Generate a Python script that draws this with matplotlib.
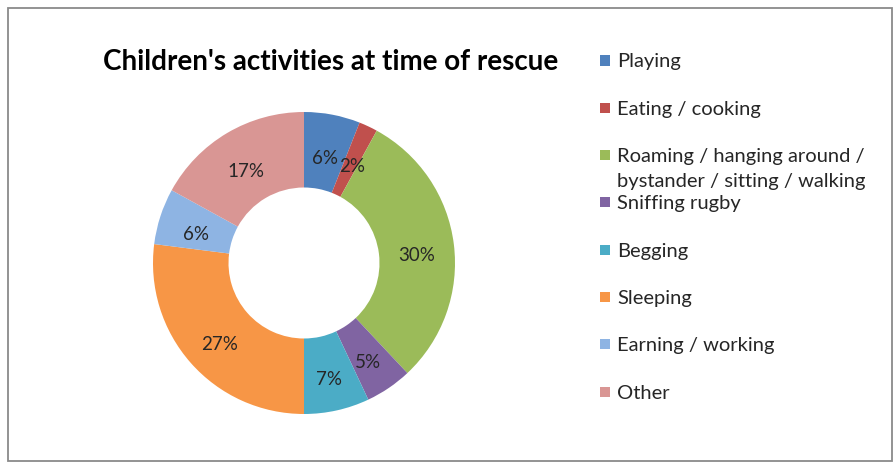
import matplotlib.pyplot as plt
from matplotlib.patches import Rectangle

# Children's activities at time of rescue (percent)
categories = ["Playing", "Eating / cooking",
              "Roaming / hanging around /\nbystander / sitting / walking",
              "Sniffing rugby", "Begging", "Sleeping",
              "Earning / working", "Other"]
shares = [6, 2, 30, 5, 7, 27, 6, 17]
colors = ["#4F81BD", "#C0504D", "#9BBB59", "#8064A2",
          "#4BACC6", "#F79646", "#8EB4E3", "#D99694"]

plt.rcParams['font.family'] = ['Lato', 'DejaVu Sans']

W, H = 895, 464
fig = plt.figure(figsize=(W / 100, H / 100), dpi=100)

# donut: centre (304, 264) px, outer radius 151 px
cx, cy, r = 304, 264, 151
ax = fig.add_axes([(cx - r) / W, 1 - (cy + r) / H, 2 * r / W, 2 * r / H])
wedges, texts, autotexts = ax.pie(
    shares, colors=colors, startangle=90, counterclock=False,
    radius=1.0, wedgeprops=dict(width=0.5, edgecolor='none'),
    autopct=lambda p: f"{p:.0f}%", pctdistance=0.75,
    textprops=dict(fontsize=13.5, color='#262626'))
for t in autotexts:
    x, y = t.get_position()
    t.set_position((x, y - 0.035))
ax.set_xlim(-1, 1)
ax.set_ylim(-1, 1)
ax.set_aspect('equal')

fig.text(331 / W, 1 - 62 / H, "Children's activities at time of rescue",
         ha='center', va='center', fontsize=20, fontweight='bold', color='black')

# legend, laid out by hand so the wrapped entry spills into the gap below
y0, step = 61.5, 47.3
for i, (lab, col) in enumerate(zip(categories, colors)):
    y = y0 + i * step
    fig.patches.append(Rectangle((600 / W, 1 - (y + 5) / H), 10 / W, 10 / H,
                                 transform=fig.transFigure, facecolor=col,
                                 edgecolor='none'))
    for k, line in enumerate(lab.split("\n")):
        fig.text(617 / W, 1 - (y + 6 + 25 * k) / H, line, ha='left',
                 va='baseline', fontsize=14.5, color='#262626')

# outer frame
fig.patches.append(Rectangle((8 / W, 1 - 462 / H), 884 / W, 453 / H,
                             transform=fig.transFigure, facecolor='none',
                             edgecolor='#8a8a8a', linewidth=1.3))

fig.savefig("out.png", dpi=100)
